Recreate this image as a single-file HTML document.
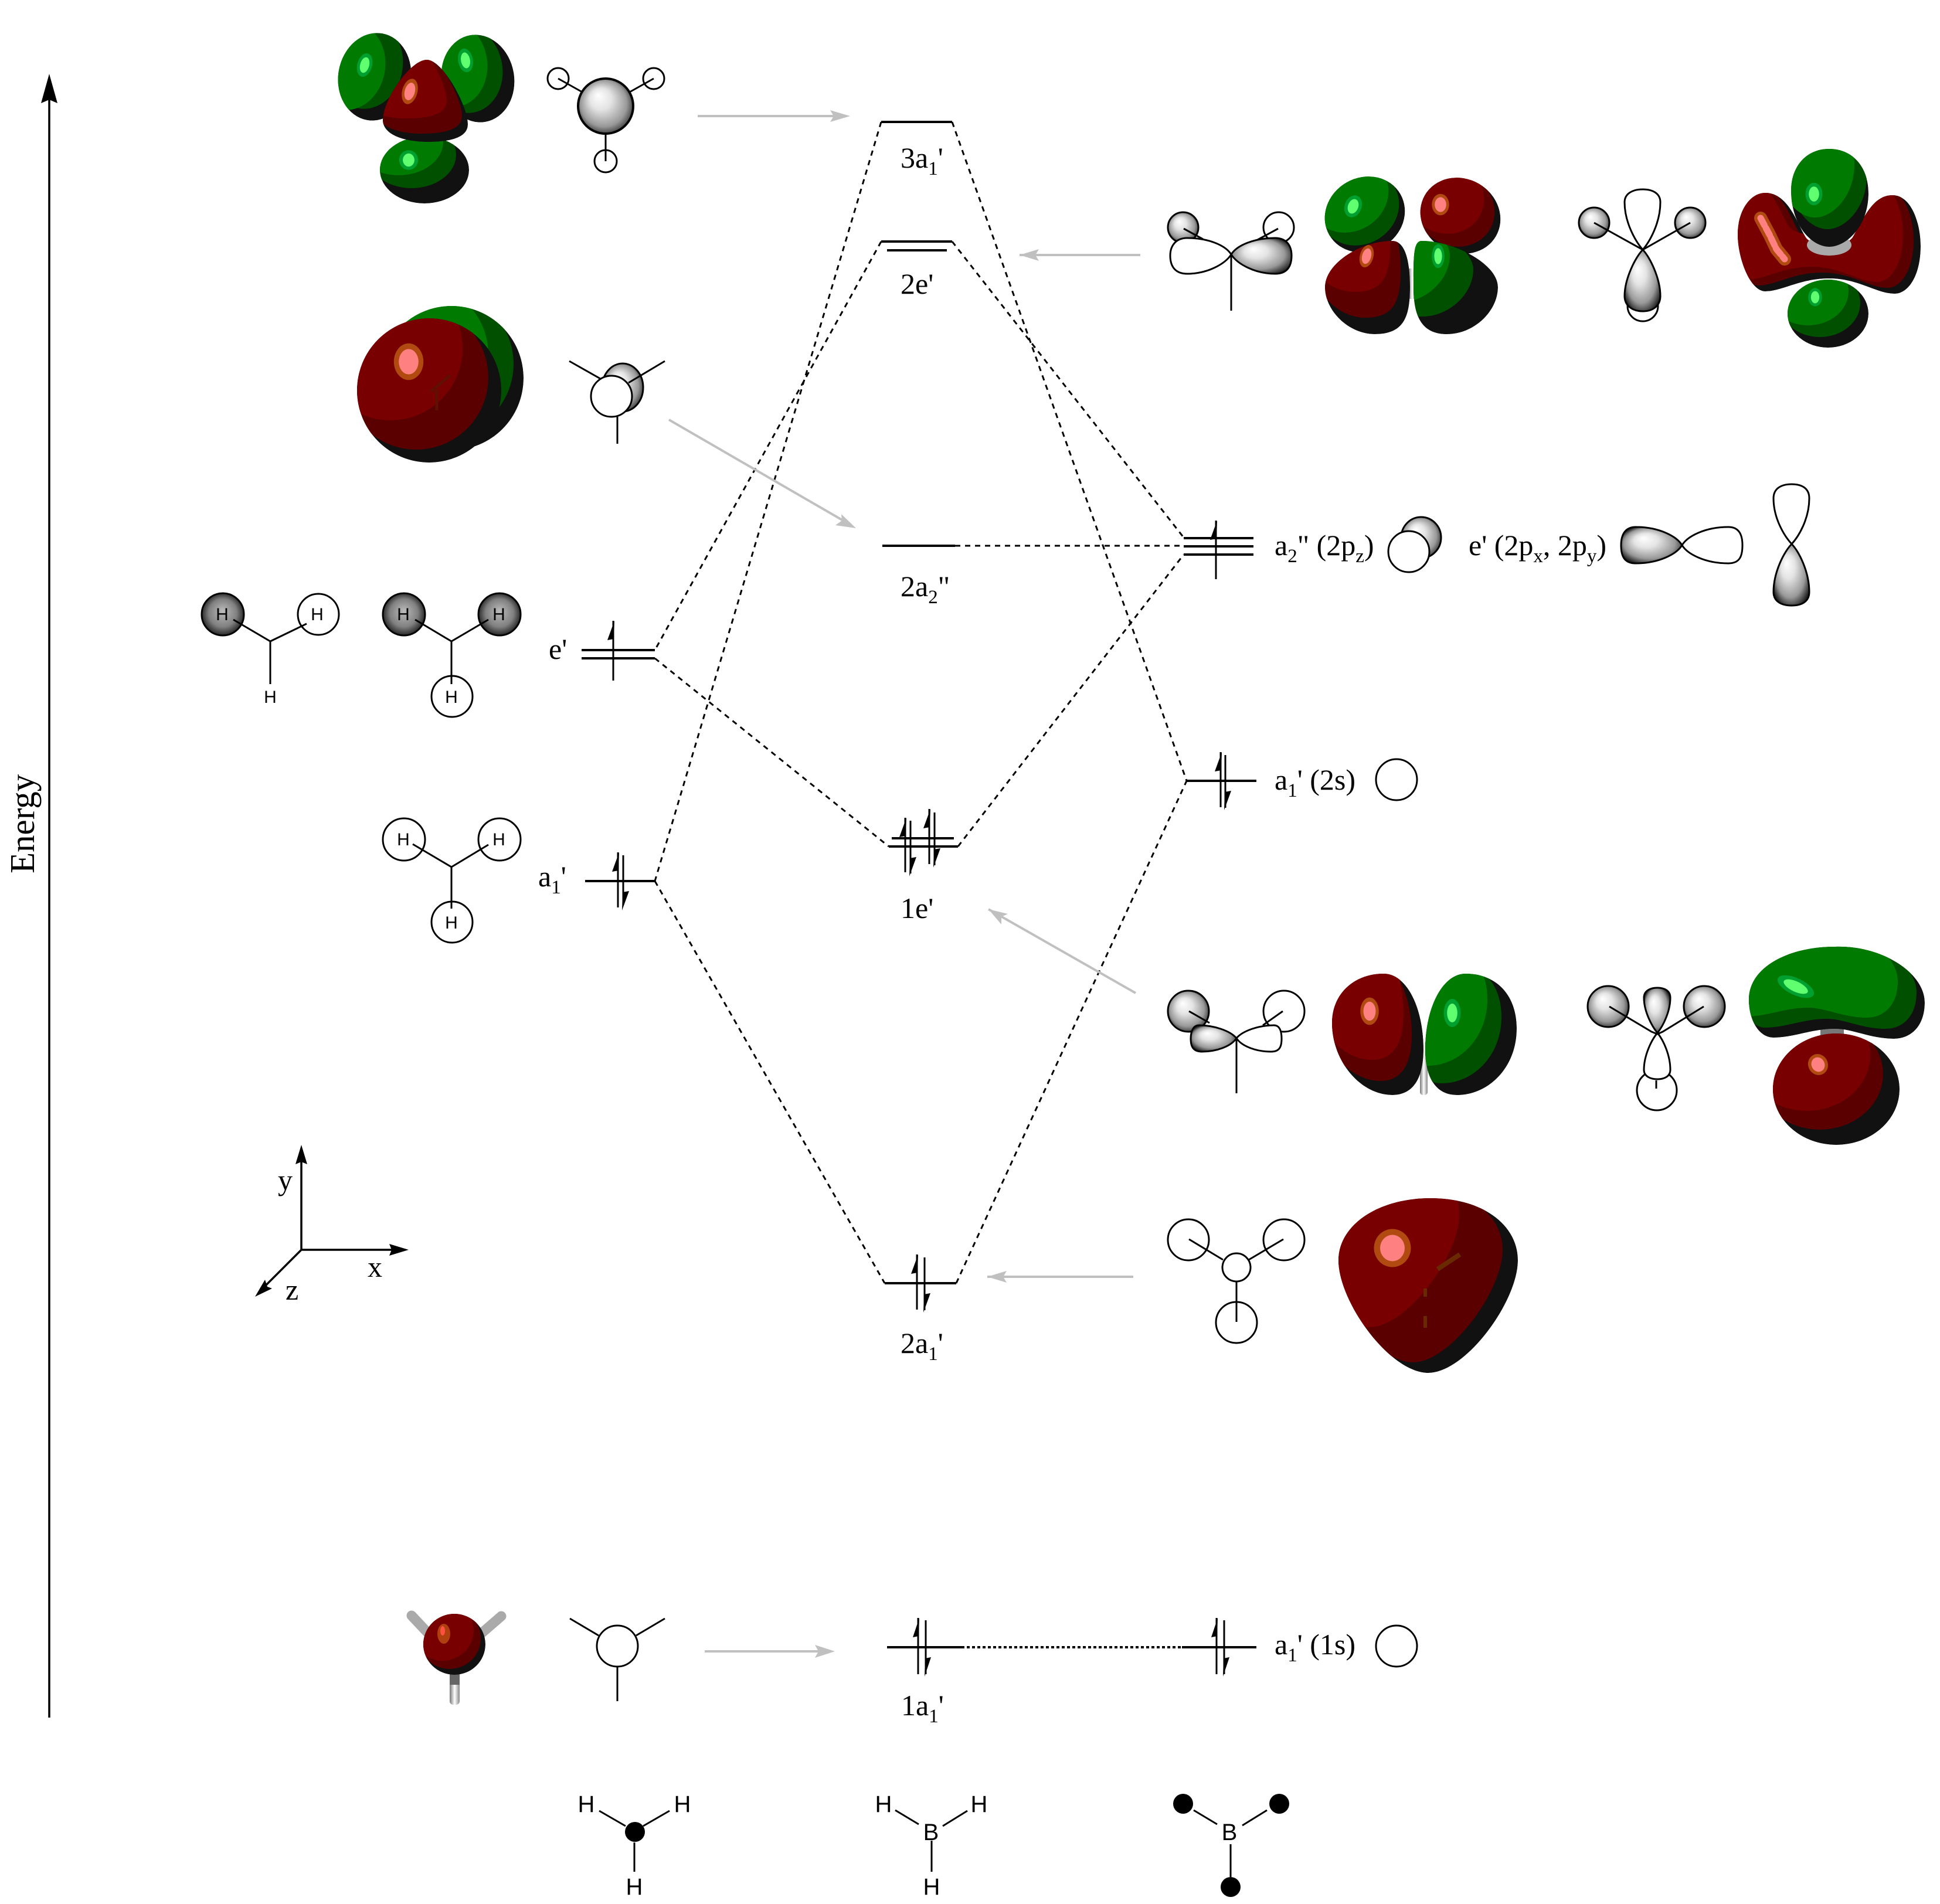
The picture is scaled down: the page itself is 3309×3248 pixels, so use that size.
<!DOCTYPE html>
<html><head><meta charset="utf-8"><title>BH3 MO diagram</title>
<style>html,body{margin:0;padding:0;background:#fff}svg{display:block}
.t{font-family:"Liberation Serif",serif;font-size:50px;fill:#000}
.h{font-family:"Liberation Sans",sans-serif;font-size:30px;fill:#000;text-anchor:middle}
.b{font-family:"Liberation Sans",sans-serif;font-size:40px;fill:#000;text-anchor:middle}
.s{font-size:33px}
</style></head><body>
<svg xmlns="http://www.w3.org/2000/svg" width="3309" height="3248" viewBox="0 0 3309 3248">
<defs>
<radialGradient id="g" cx=".5" cy=".5" r=".56" fx=".36" fy=".3"><stop offset="0" stop-color="#fff"/><stop offset=".35" stop-color="#e4e4e4"/><stop offset=".75" stop-color="#999"/><stop offset="1" stop-color="#222"/></radialGradient>
<radialGradient id="gd" cx=".5" cy=".5" r=".55" fx=".5" fy=".42"><stop offset="0" stop-color="#bbb"/><stop offset=".6" stop-color="#808080"/><stop offset="1" stop-color="#111"/></radialGradient>
<linearGradient id="st"><stop offset="0" stop-color="#777"/><stop offset=".5" stop-color="#fff"/><stop offset="1" stop-color="#888"/></linearGradient>
<g id="hg"><ellipse rx="18" ry="24" fill="#00a030"/><ellipse rx="11" ry="16" fill="#60ff70"/></g>
<g id="hr"><ellipse rx="21" ry="26" fill="#b04a10"/><ellipse rx="14" ry="18" fill="#ff8080"/></g>
<ellipse id="a1" cx="639" cy="131" rx="62" ry="75" transform="rotate(10 639 131)"/>
<ellipse id="a2" cx="815" cy="134" rx="62" ry="75" transform="rotate(-10 815 134)"/>
<ellipse id="a3" cx="724" cy="290" rx="76" ry="57"/>
<path id="a4" d="M728 102C755 102 798 180 798 212C798 232 775 242 730 242C685 242 653 228 653 205C653 170 700 102 728 102Z"/>
<ellipse id="b1" cx="770" cy="645" rx="123" ry="123"/>
<ellipse id="b2" cx="732" cy="666" rx="123" ry="123"/>
<ellipse id="c1" cx="2328" cy="366" rx="70" ry="63" transform="rotate(-30 2328 366)"/>
<ellipse id="c2" cx="2491" cy="368" rx="70" ry="63" transform="rotate(30 2491 368)"/>
<path id="c3" d="M2375 411C2395 411 2405 440 2405 490C2405 540 2395 570 2345 570C2300 570 2260 530 2260 490C2260 450 2320 411 2375 411Z"/>
<path id="c4" d="M2425 411C2480 411 2555 450 2555 490C2555 530 2515 570 2468 570C2425 570 2411 540 2411 490C2411 440 2410 411 2425 411Z"/>
<path id="d1" d="M3011 329C3050 329 3065 380 3080 405C3095 425 3145 425 3160 405C3180 370 3195 333 3228 333C3260 333 3276 380 3276 420C3276 470 3255 501 3232 501C3200 501 3170 475 3120 475C3070 475 3040 497 3011 497C2985 497 2964 440 2964 400C2964 360 2985 329 3011 329Z"/>
<path id="d2" d="M3120 254C3160 254 3187 285 3187 330C3187 385 3150 421 3120 421C3090 421 3055 385 3055 325C3055 285 3080 254 3120 254Z"/>
<ellipse id="d3" cx="3118" cy="535" rx="69" ry="58"/>
<path id="e1" d="M2360 1661C2400 1661 2428 1720 2428 1790C2428 1840 2410 1868 2375 1868C2320 1868 2272 1810 2272 1745C2272 1695 2310 1661 2360 1661Z"/>
<path id="e2" d="M2500 1661C2550 1661 2587 1695 2587 1755C2587 1820 2540 1868 2485 1868C2450 1868 2431 1840 2431 1790C2431 1720 2460 1661 2500 1661Z"/>
<path id="f1" d="M3130 1615C3210 1612 3283 1660 3283 1710C3283 1750 3260 1772 3230 1772C3190 1772 3160 1755 3130 1755C3090 1755 3060 1770 3025 1770C3000 1770 2983 1740 2983 1705C2983 1650 3050 1615 3130 1615Z"/>
<ellipse id="f2" cx="3132" cy="1858" rx="108" ry="95"/>
<path id="k" d="M2283 2150C2283 2090 2350 2044 2440 2044C2530 2044 2589 2090 2589 2150C2589 2220 2500 2342 2436 2342C2370 2342 2283 2220 2283 2150Z"/>
<ellipse id="m" cx="775" cy="2805" rx="53" ry="52"/>
<clipPath id="ca1"><use href="#a1"/></clipPath><clipPath id="ca2"><use href="#a2"/></clipPath><clipPath id="ca3"><use href="#a3"/></clipPath><clipPath id="ca4"><use href="#a4"/></clipPath>
<clipPath id="cb1"><use href="#b1"/></clipPath><clipPath id="cb2"><use href="#b2"/></clipPath>
<clipPath id="cc1"><use href="#c1"/></clipPath><clipPath id="cc2"><use href="#c2"/></clipPath><clipPath id="cc3"><use href="#c3"/></clipPath><clipPath id="cc4"><use href="#c4"/></clipPath>
<clipPath id="cd1"><use href="#d1"/></clipPath><clipPath id="cd2"><use href="#d2"/></clipPath><clipPath id="cd3"><use href="#d3"/></clipPath>
<clipPath id="ce1"><use href="#e1"/></clipPath><clipPath id="ce2"><use href="#e2"/></clipPath>
<clipPath id="cf1"><use href="#f1"/></clipPath><clipPath id="cf2"><use href="#f2"/></clipPath>
<clipPath id="ck"><use href="#k"/></clipPath><clipPath id="cm"><use href="#m"/></clipPath>
</defs>
<rect width="3309" height="3248" fill="#fff"/>

<!-- 3D orbitals -->
<g clip-path="url(#ca1)"><use href="#a1" fill="#111"/><use href="#a1" fill="#005000" transform="translate(-14,-20)"/><use href="#a1" fill="#007a00" transform="translate(-44,-18)"/></g><use href="#hg" transform="translate(622,111) rotate(15) scale(.7,.85)"/>
<g clip-path="url(#ca2)"><use href="#a2" fill="#111"/><use href="#a2" fill="#005000" transform="translate(-20,-16)"/><use href="#a2" fill="#007a00" transform="translate(-46,-26)"/></g><use href="#hg" transform="translate(794,103) rotate(-10) scale(.7,.85)"/>
<g clip-path="url(#ca3)"><use href="#a3" fill="#111"/><use href="#a3" fill="#005000" transform="translate(-22,-26)"/><use href="#a3" fill="#007a00" transform="translate(-44,-48)"/></g><use href="#hg" transform="translate(697,273) scale(.9,.7)"/>
<g clip-path="url(#ca4)"><use href="#a4" fill="#111"/><use href="#a4" fill="#5a0000" transform="translate(-10,-14)"/><use href="#a4" fill="#780000" transform="translate(-36,-40)"/></g><use href="#hr" transform="translate(699,156) rotate(15) scale(.62,.85)"/>

<g clip-path="url(#cb1)"><use href="#b1" fill="#111"/><use href="#b1" fill="#005000" transform="translate(-17,-24)"/><use href="#b1" fill="#007a00" transform="translate(-60,-40)"/></g>
<g clip-path="url(#cb2)"><use href="#b2" fill="#111"/><use href="#b2" fill="#5a0000" transform="translate(-22,-22)"/><use href="#b2" fill="#780000" transform="translate(-66,-72)"/></g><use href="#hr" transform="translate(697,617) scale(1.2)"/>
<path d="M735 668L768 640M745 665V700" stroke="#5f1000" stroke-width="5" fill="none"/>

<rect x="2402" y="458" width="14" height="52" fill="url(#st)"/>
<g clip-path="url(#cc1)"><use href="#c1" fill="#111"/><use href="#c1" fill="#005000" transform="translate(-10,-12)"/><use href="#c1" fill="#007a00" transform="translate(-28,-34)"/></g><use href="#hg" transform="translate(2308,352) rotate(20) scale(.8)"/>
<g clip-path="url(#cc2)"><use href="#c2" fill="#111"/><use href="#c2" fill="#5a0000" transform="translate(-10,-12)"/><use href="#c2" fill="#780000" transform="translate(-28,-34)"/></g><use href="#hr" transform="translate(2457,349) scale(.7)"/>
<g clip-path="url(#cc3)"><use href="#c3" fill="#111"/><use href="#c3" fill="#5a0000" transform="translate(-16,-28)"/><use href="#c3" fill="#780000" transform="translate(-34,-72)"/></g><use href="#hr" transform="translate(2331,437) rotate(15) scale(.55,.75)"/>
<g clip-path="url(#cc4)"><use href="#c4" fill="#111"/><use href="#c4" fill="#005000" transform="translate(-42,-30)"/><use href="#c4" fill="#007a00" transform="translate(-82,-54)"/></g><use href="#hg" transform="translate(2453,437) scale(.6,.85)"/>

<g clip-path="url(#cd1)"><use href="#d1" fill="#111"/><use href="#d1" fill="#5a0000" transform="translate(-12,-10)"/><use href="#d1" fill="#780000" transform="translate(-30,-20)"/></g>
<ellipse cx="3120" cy="418" rx="38" ry="18" fill="#aaa"/>
<g clip-path="url(#cd2)"><use href="#d2" fill="#111"/><use href="#d2" fill="#005000" transform="translate(-3,-30)"/><use href="#d2" fill="#007a00" transform="translate(-24,-50)"/></g><use href="#hg" transform="translate(3094,331) scale(.8)"/>
<g clip-path="url(#cd3)"><use href="#d3" fill="#111"/><use href="#d3" fill="#005000" transform="translate(-14,-18)"/><use href="#d3" fill="#007a00" transform="translate(-34,-38)"/></g><use href="#hg" transform="translate(3096,507) scale(.65)"/>
<path d="M3003 372L3018 400L3030 425L3044 442" stroke="#b04a10" stroke-width="22" fill="none" stroke-linecap="round"/><path d="M3003 372L3018 400L3030 425L3044 442" stroke="#ff8080" stroke-width="11" fill="none" stroke-linecap="round" stroke-dasharray="14 5"/>

<rect x="2422" y="1778" width="13" height="90" fill="url(#st)" rx="5"/>
<g clip-path="url(#ce1)"><use href="#e1" fill="#111"/><use href="#e1" fill="#5a0000" transform="translate(-20,-24)"/><use href="#e1" fill="#780000" transform="translate(-34,-60)"/></g><use href="#hr" transform="translate(2336,1725) scale(.75,.9)"/>
<g clip-path="url(#ce2)"><use href="#e2" fill="#111"/><use href="#e2" fill="#005000" transform="translate(-26,-20)"/><use href="#e2" fill="#007a00" transform="translate(-50,-50)"/></g><use href="#hg" transform="translate(2477,1728) scale(.8,1)"/>

<rect x="3105" y="1750" width="40" height="30" fill="#777"/>
<g clip-path="url(#cf2)"><use href="#f2" fill="#111"/><use href="#f2" fill="#5a0000" transform="translate(-28,-26)"/><use href="#f2" fill="#780000" transform="translate(-50,-58)"/></g><use href="#hr" transform="translate(3101,1816) rotate(-25) scale(.8,.7)"/>
<g clip-path="url(#cf1)"><use href="#f1" fill="#111"/><use href="#f1" fill="#005000" transform="translate(-14,-17)"/><use href="#f1" fill="#007a00" transform="translate(-46,-36)"/></g><use href="#hg" transform="translate(3063,1683) rotate(-65) scale(.8,1.4)"/>

<g clip-path="url(#ck)"><use href="#k" fill="#111"/><use href="#k" fill="#5a0000" transform="translate(-26,-18)"/><use href="#k" fill="#780000" transform="translate(-100,-78)"/></g><use href="#hr" transform="translate(2375,2129) scale(1.5,1.25)"/>
<path d="M2452 2165L2490 2140" stroke="#6a2a00" stroke-width="8"/><path d="M2431 2198V2212M2431 2245V2265" stroke="#6a2a00" stroke-width="6"/>

<path d="M702 2756L733 2789M855 2757L818 2789" stroke="#aaa" stroke-width="17" stroke-linecap="round"/>
<rect x="767" y="2850" width="17" height="58" rx="6" fill="url(#st)"/><rect x="767" y="2850" width="17" height="24" fill="#666"/>
<g clip-path="url(#cm)"><use href="#m" fill="#111"/><use href="#m" fill="#5a0000" transform="translate(-8,-10)"/><use href="#m" fill="#780000" transform="translate(-20,-24)"/></g><ellipse cx="757" cy="2787" rx="11" ry="17" fill="#b04010"/><ellipse cx="755" cy="2782" rx="4" ry="8" fill="#ff5040"/>

<!-- schematics -->
<g fill="none" stroke="#000" stroke-width="3">
<!-- top -->
<circle cx="952" cy="134" r="18"/><circle cx="1115" cy="134" r="18"/><circle cx="1033" cy="275" r="19"/>
<ellipse cx="1033" cy="181" rx="47" ry="47" fill="url(#g)" stroke-width="4"/>
<path d="M952 134L993 157M1115 134L1074 157M1033 228V275"/>
<!-- a2" MO -->
<ellipse cx="1062" cy="661" rx="35" ry="41" fill="url(#g)"/><circle cx="1043" cy="676" r="35" fill="#fff"/>
<path d="M971 616L1024 646M1134 616L1072 653M1053 711V757"/>
<!-- H combos -->
<circle cx="380" cy="1048" r="36" fill="url(#gd)"/><circle cx="543" cy="1048" r="35"/>
<path d="M398 1057L461 1094L523 1064M461 1094V1167"/>
<circle cx="689" cy="1048" r="36" fill="url(#gd)"/><circle cx="852" cy="1048" r="36" fill="url(#gd)"/><circle cx="771" cy="1188" r="35"/>
<path d="M708 1057L770 1094L833 1057M770 1094V1167"/>
<circle cx="689" cy="1432" r="36"/><circle cx="852" cy="1432" r="36"/><circle cx="771" cy="1573" r="35"/>
<path d="M704 1440L770 1479L833 1441M770 1479V1550"/>
<!-- 2e' schematic A -->
<circle cx="2018" cy="388" r="26" fill="url(#g)"/><circle cx="2181" cy="388" r="26"/>
<path d="M2019 390L2052 408M2180 390L2145 409"/>
<path d="M2100 434C2090 418 2060 406 2025 406C2005 406 1996 420 1996 436C1996 455 2005 467 2025 467C2060 467 2090 450 2100 434Z" fill="#fff"/>
<path d="M2100 434C2110 418 2140 406 2175 406C2195 406 2203 420 2203 436C2203 455 2195 467 2175 467C2140 467 2110 450 2100 434Z" fill="url(#g)"/>
<path d="M2100 434V530"/>
<!-- schematic B -->
<circle cx="2802" cy="522" r="26"/>
<path d="M2802 426C2790 412 2771 380 2771 345C2771 330 2785 323 2802 323C2819 323 2832 330 2832 345C2832 380 2814 412 2802 426Z" fill="#fff"/>
<path d="M2802 426C2790 438 2771 475 2771 505C2771 522 2785 531 2802 531C2819 531 2832 522 2832 505C2832 475 2814 438 2802 426Z" fill="url(#g)"/>
<circle cx="2719" cy="380" r="26" fill="url(#g)"/><circle cx="2883" cy="380" r="26" fill="url(#g)"/>
<path d="M2719 380L2802 426L2883 380"/>
<!-- p orbitals -->
<ellipse cx="2424" cy="917" rx="34" ry="35" fill="url(#g)"/><circle cx="2403" cy="941" r="35" fill="#fff"/>
<path d="M2869 930C2860 915 2830 899 2790 899C2770 899 2765 915 2765 930C2765 948 2770 961 2790 961C2830 961 2860 945 2869 930Z" fill="url(#g)"/>
<path d="M2869 930C2878 915 2908 899 2948 899C2968 899 2972 915 2972 930C2972 948 2968 961 2948 961C2908 961 2878 945 2869 930Z"/>
<path d="M3056 928C3044 915 3025 885 3025 850C3025 832 3040 826 3056 826C3072 826 3086 832 3086 850C3086 885 3068 915 3056 928Z"/>
<path d="M3056 928C3044 940 3025 975 3025 1010C3025 1027 3040 1033 3056 1033C3072 1033 3086 1027 3086 1010C3086 975 3068 940 3056 928Z" fill="url(#g)"/>
<circle cx="2382" cy="1330" r="35"/>
<!-- schematic C -->
<circle cx="2027" cy="1725" r="35" fill="url(#g)"/><circle cx="2190" cy="1725" r="35"/>
<path d="M2028 1725L2063 1745M2188 1725L2154 1749"/>
<path d="M2109 1771C2098 1758 2070 1749 2045 1749C2035 1749 2031 1760 2031 1772C2031 1785 2035 1794 2050 1794C2075 1794 2100 1785 2109 1771Z" fill="url(#g)"/>
<path d="M2109 1771C2120 1758 2148 1749 2173 1749C2183 1749 2186 1760 2186 1772C2186 1785 2183 1794 2168 1794C2143 1794 2118 1785 2109 1771Z" fill="#fff"/>
<path d="M2109 1771V1865"/>
<!-- schematic D -->
<circle cx="2826" cy="1860" r="34"/>
<path d="M2827 1762C2817 1750 2804 1725 2804 1702C2804 1690 2815 1685 2827 1685C2839 1685 2849 1690 2849 1702C2849 1725 2837 1750 2827 1762Z" fill="url(#g)"/>
<path d="M2827 1762C2817 1774 2804 1800 2804 1825C2804 1836 2815 1841 2827 1841C2839 1841 2849 1836 2849 1825C2849 1800 2837 1774 2827 1762Z" fill="#fff"/>
<circle cx="2743" cy="1717" r="35" fill="url(#g)"/><circle cx="2907" cy="1717" r="35" fill="url(#g)"/>
<path d="M2745 1717L2817 1760L2827 1764L2836 1760L2906 1717M2825 1843V1857"/>
<!-- schematic E -->
<circle cx="2027" cy="2115" r="35"/><circle cx="2190" cy="2115" r="35"/><circle cx="2109" cy="2256" r="35"/><circle cx="2109" cy="2162" r="24"/>
<path d="M2028 2114L2086 2149M2189 2114L2130 2149M2109 2186V2255"/>
<!-- core -->
<circle cx="1053" cy="2808" r="35"/><path d="M972 2761L1021 2790M1134 2761L1085 2790M1053 2844V2902"/>
<circle cx="2382" cy="2808" r="35"/>
<!-- bottom row -->
<path d="M1022 3089L1067 3115M1142 3089L1097 3115M1082 3143V3193M1527 3088L1567 3112M1650 3089L1608 3115M1589 3140V3193M2036 3088L2076 3112M2161 3088L2119 3114M2099 3146V3202"/>
</g>
<circle cx="1083" cy="3125" r="17"/><circle cx="2018" cy="3077" r="17"/><circle cx="2182" cy="3077" r="17"/><circle cx="2099" cy="3219" r="17"/>

<!-- H labels -->
<text class="h" x="379" y="1058">H</text><text class="h" x="541" y="1058">H</text><text class="h" x="461" y="1199">H</text>
<text class="h" x="688" y="1058">H</text><text class="h" x="851" y="1058">H</text><text class="h" x="770" y="1199">H</text>
<text class="h" x="688" y="1442">H</text><text class="h" x="851" y="1442">H</text><text class="h" x="770" y="1584">H</text>
<text class="b" x="1000" y="3091">H</text><text class="b" x="1164" y="3091">H</text><text class="b" x="1082" y="3232">H</text>
<text class="b" x="1507" y="3091">H</text><text class="b" x="1670" y="3091">H</text><text class="b" x="1588" y="3139">B</text><text class="b" x="1589" y="3232">H</text>
<text class="b" x="2097" y="3139">B</text>

<!-- dashed correlation -->
<g fill="none" stroke="#000" stroke-width="3" stroke-dasharray="9 8">
<path d="M1503 208L1117 1503"/><path d="M1624 208L2024 1332"/>
<path d="M1503 412L1117 1109"/><path d="M1624 412L2019 917"/>
<path d="M1629 931H2019"/>
<path d="M1117 1123L1516 1444"/><path d="M1634 1444L2019 946"/>
<path d="M1117 1503L1509 2189"/><path d="M1631 2189L2024 1332"/>
</g>
<path d="M1640 2810H2016" stroke="#000" stroke-width="4" stroke-dasharray="5 4"/>

<!-- levels -->
<path d="M1503 208H1624M1503 412H1624M1513 427H1615M1505 931H1629M992 1109H1117M992 1123H1117M998 1503H1117M1521 1430H1627M1516 1444H1634M1509 2189H1631M1513 2810H1640M2016 2810H2143M2019 918H2138M2019 932H2138M2019 946H2138M2024 1332H2143" stroke="#000" stroke-width="4" fill="none"/>
<!-- electron sticks -->
<path d="M1046 1059V1161M1054 1454V1548M1063 1459V1543M1544 1395V1488M1553 1400V1490M1585 1380V1474M1594 1386V1476M1564 2140V2234M1577 2145V2235M1566 2760V2856M1579 2764V2856M2075 2760V2856M2088 2764V2856M2074 888V988M2082 1283V1377M2090 1288V1378" stroke="#000" stroke-width="3" fill="none"/>
<g fill="#000">
<path d="M1048 1059L1036 1092L1047 1090Z"/>
<path d="M1056 1454L1044 1487L1055 1485Z"/><path d="M1061 1553L1073 1520L1062 1522Z"/>
<path d="M1546 1395L1534 1428L1545 1426Z"/><path d="M1551 1495L1563 1462L1552 1464Z"/>
<path d="M1587 1380L1575 1413L1586 1411Z"/><path d="M1592 1480L1604 1447L1593 1449Z"/>
<path d="M1566 2140L1554 2173L1565 2171Z"/><path d="M1575 2239L1587 2206L1576 2208Z"/>
<path d="M1568 2760L1557 2793L1567 2791Z"/><path d="M1577 2860L1588 2827L1578 2829Z"/>
<path d="M2077 2760L2066 2793L2076 2791Z"/><path d="M2086 2860L2097 2827L2087 2829Z"/>
<path d="M2076 888L2064 921L2075 919Z"/>
<path d="M2084 1283L2072 1316L2083 1314Z"/><path d="M2088 1382L2100 1349L2089 1351Z"/>
</g>

<!-- labels -->
<g class="t">
<text class="t" x="1536" y="286">3a<tspan class="s" dy="12">1</tspan><tspan dy="-12">'</tspan></text>
<text class="t" x="1536" y="501">2e'</text>
<text class="t" x="1536" y="1017">2a<tspan class="s" dy="12">2</tspan><tspan dy="-12">"</tspan></text>
<text class="t" x="936" y="1124">e'</text>
<text class="t" x="918" y="1512">a<tspan class="s" dy="12">1</tspan><tspan dy="-12">'</tspan></text>
<text class="t" x="1536" y="1566">1e'</text>
<text class="t" x="1536" y="2308">2a<tspan class="s" dy="12">1</tspan><tspan dy="-12">'</tspan></text>
<text class="t" x="1537" y="2926">1a<tspan class="s" dy="12">1</tspan><tspan dy="-12">'</tspan></text>
<text class="t" x="2174" y="947">a<tspan class="s" dy="12">2</tspan><tspan dy="-12">" (2p</tspan><tspan class="s" dy="12">z</tspan><tspan dy="-12">)</tspan></text>
<text class="t" x="2505" y="947">e' (2p<tspan class="s" dy="12">x</tspan><tspan dy="-12">, 2p</tspan><tspan class="s" dy="12">y</tspan><tspan dy="-12">)</tspan></text>
<text class="t" x="2174" y="1347">a<tspan class="s" dy="12">1</tspan><tspan dy="-12">' (2s)</tspan></text>
<text class="t" x="2174" y="2822">a<tspan class="s" dy="12">1</tspan><tspan dy="-12">' (1s)</tspan></text>
<text class="t" x="474" y="2030">y</text>
<text class="t" x="627" y="2178">x</text>
<text class="t" x="487" y="2217">z</text>
<text class="t" transform="translate(58,1490) rotate(-90)" style="font-size:59px">Energy</text>
</g>

<!-- energy axis and coordinate axes -->
<path d="M84 2930V160M514 1975V2132H672M514 2132L448 2198" stroke="#000" stroke-width="3.5" fill="none"/>
<path d="M84 126L98 176L84 170L70 176Z"/>
<path d="M514 1953L524 1986L514 1982L504 1986Z"/>
<path d="M697 2132L664 2142L668 2132L664 2122Z"/>
<path d="M435 2212L452 2183L456 2195L464 2198Z"/>

<!-- gray arrows -->
<g stroke="#c0c0c0" stroke-width="4" fill="none"><path d="M1190 198H1430M1739 435H1945M1141 716L1445 892M1686 1551L1937 1694M1684 2178H1933M1202 2817H1405"/></g>
<g fill="#c0c0c0">
<path d="M1450 198L1416 188L1422 198L1416 208Z"/>
<path d="M1739 435L1772 425L1766 435L1772 445Z"/>
<path d="M1460 901L1425 896L1436 888L1435 877Z"/>
<path d="M1686 1551L1719 1559L1708 1564L1708 1577Z"/>
<path d="M1684 2178L1717 2168L1711 2178L1717 2188Z"/>
<path d="M1424 2817L1390 2806L1396 2817L1390 2828Z"/>
</g>
</svg>
</body></html>
